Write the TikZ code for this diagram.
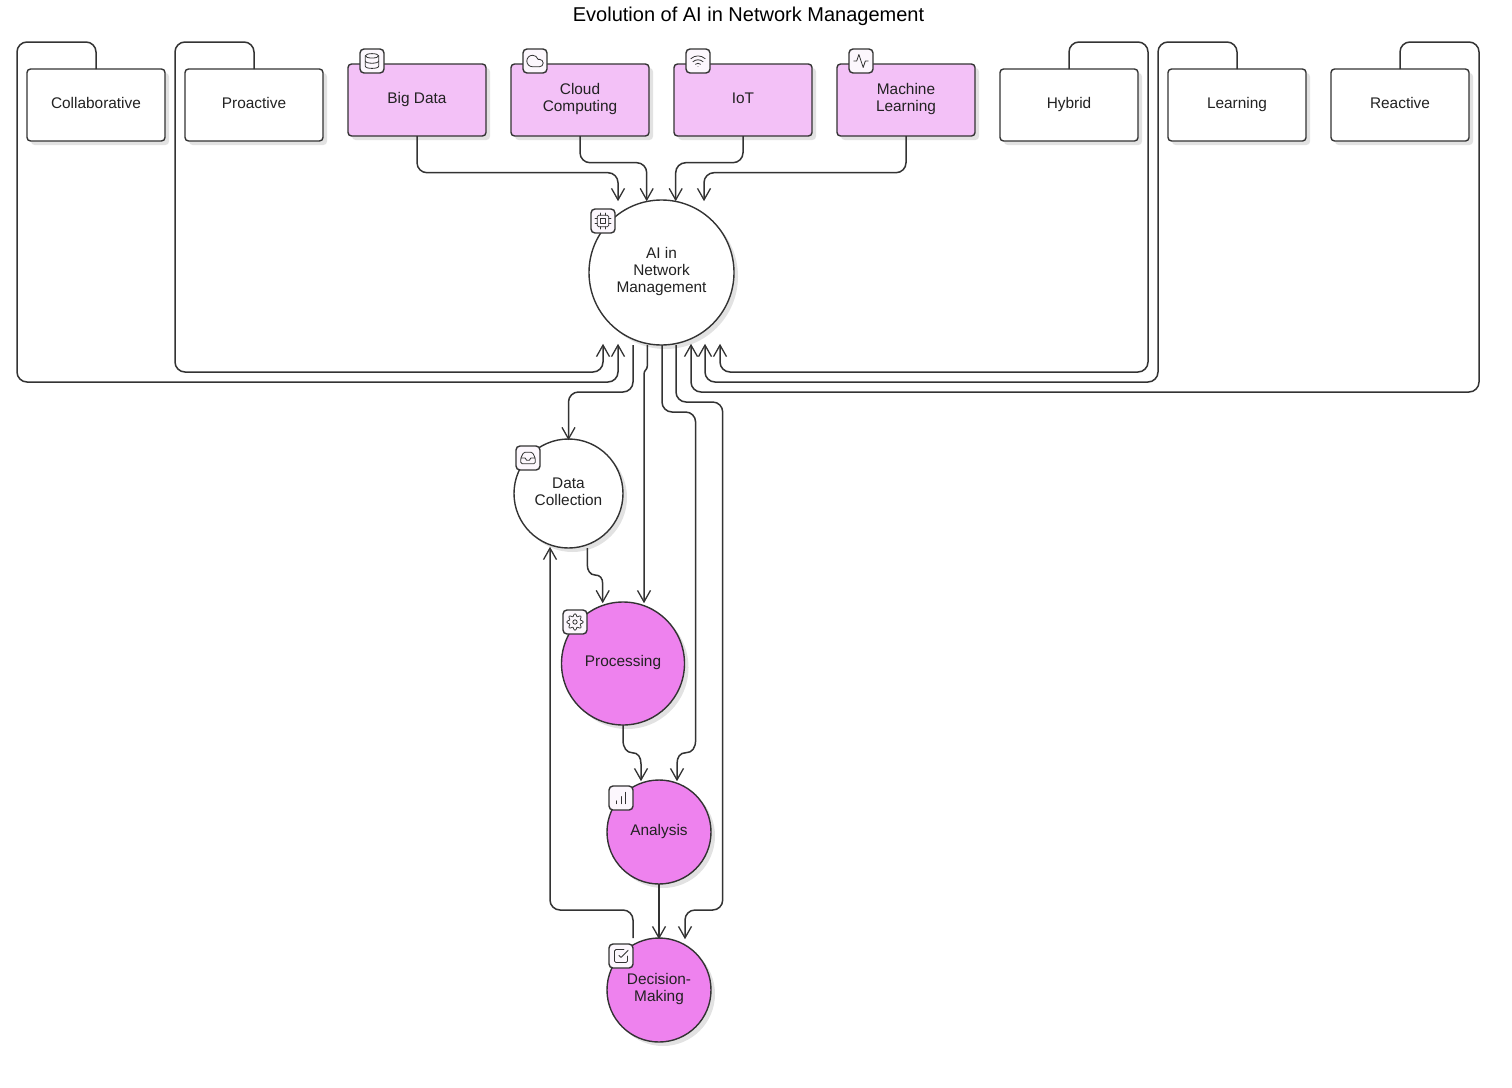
\documentclass[tikz,border=0pt]{standalone}
\usepackage{fontspec}
\setmainfont{Liberation Sans}
\usetikzlibrary{arrows.meta,shadows,calc}
\definecolor{ink}{HTML}{333333}
\definecolor{txt}{HTML}{222222}
\definecolor{softpink}{HTML}{F3C1F7}
\definecolor{violetfill}{HTML}{EE82EE}
\definecolor{iconbg}{HTML}{FCF7FD}
\definecolor{shade}{HTML}{E2E2E2}
\newcommand{\lbl}[1]{\raisebox{1pt}{\begin{tabular}{@{}c@{}}#1\end{tabular}}}
\tikzset{
  x=1pt,y=-1pt,
  every node/.style={text=txt,font=\fontsize{15.4}{17}\selectfont,outer sep=0pt,inner sep=0pt},
  softshadow/.style={general shadow={draw=none,fill=shade,shadow xshift=4pt,shadow yshift=-4pt}},
  boxplain/.style={softshadow,draw=ink,line width=1.4pt,fill=white,rounded corners=3.5pt,minimum width=138pt,minimum height=72pt},
  boxpink/.style={boxplain,fill=softpink},
  ballplain/.style={softshadow,circle,draw=ink,line width=1.4pt,fill=white},
  ballviolet/.style={ballplain,fill=violetfill},
  iconbox/.style={draw=ink,line width=1.4pt,fill=iconbg,rounded corners=4pt,minimum size=24pt},
  conn/.style={draw=ink,line width=1.5pt,rounded corners=10pt,shorten >=-1.2pt,-{Straight Barb[length=11.5pt,width=13pt,line width=1.3pt]}},
  glyph/.style={draw=ink,line width=0.8pt,line cap=round,line join=round},
  pics/icdb/.style={code={\begin{scope}[shift={(-12,-12)},glyph]
    \draw (12,5) ellipse [x radius=9,y radius=3];
    \draw (3,5) -- (3,19) .. controls (3,23) and (21,23) .. (21,19) -- (21,5);
    \draw (3,12) .. controls (3,16) and (21,16) .. (21,12);
  \end{scope}}},
  pics/iccloud/.style={code={\begin{scope}[shift={(-12,-12)},glyph]
    \draw (17.5,19) -- (9,19) arc[start angle=90,end angle=343.4,radius=7] -- (17.5,10) arc[start angle=-90,end angle=90,radius=4.5] -- cycle;
  \end{scope}}},
  pics/icwifi/.style={code={\begin{scope}[shift={(-12,-12)},glyph]
    \draw (2,8.82) .. controls (8,3.6) and (16,3.6) .. (22,8.82);
    \draw (5,13) .. controls (9,9.4) and (15,9.4) .. (19,13);
    \draw (8.5,16.5) .. controls (10.5,14.8) and (13.5,14.8) .. (15.5,16.5);
    \draw (12,20) -- (12.01,20);
  \end{scope}}},
  pics/icpulse/.style={code={\begin{scope}[shift={(-12,-12)},glyph]
    \draw (22,12) -- (18,12) -- (15,21) -- (9,3) -- (6,12) -- (2,12);
  \end{scope}}},
  pics/iccpu/.style={code={\begin{scope}[shift={(-12,-12)},glyph]
    \draw[rounded corners=1.4pt] (4,4) rectangle (20,20);
    \draw (9,9) rectangle (15,15);
    \foreach \p in {9,15}{
      \draw (\p,1) -- (\p,4); \draw (\p,20) -- (\p,23);
      \draw (1,\p) -- (4,\p); \draw (20,\p) -- (23,\p);}
  \end{scope}}},
  pics/icinbox/.style={code={\begin{scope}[shift={(-12,-12)},glyph]
    \draw (22,12) -- (16,12) -- (14,15) -- (10,15) -- (8,12) -- (2,12);
    \draw[rounded corners=1.4pt] (6,4) -- (18,4) -- (22,12) -- (22,20) -- (2,20) -- (2,12) -- cycle;
  \end{scope}}},
  pics/icgear/.style={code={\begin{scope}[glyph]
    \draw[domain=0:360,samples=121,smooth] plot ({(9.6+1.7*cos(8*\x))*cos(\x)},{(9.6+1.7*cos(8*\x))*sin(\x)}) -- cycle;
    \draw (0,0) circle [radius=3];
  \end{scope}}},
  pics/icbars/.style={code={\begin{scope}[shift={(-12,-12)},glyph]
    \draw (12,20) -- (12,10); \draw (18,20) -- (18,4); \draw (6,20) -- (6,16);
  \end{scope}}},
  pics/iccheck/.style={code={\begin{scope}[shift={(-12,-12)},glyph]
    \draw (9,11) -- (12,14) -- (22,4);
    \draw[rounded corners=1.4pt] (21,12) -- (21,21) -- (3,21) -- (3,3) -- (16,3);
  \end{scope}}},
}
\begin{document}
\begin{tikzpicture}
\useasboundingbox (0,0) rectangle (1512,1087);
\node[font=\fontsize{20}{22}\selectfont,text=black] (title) at (748.5,16.5) {Evolution of AI in Network Management};

% boxes
\node[boxplain] (collab) at (96,105) {\lbl{Collaborative}};
\node[boxplain] (proact) at (254,105) {\lbl{Proactive}};
\node[boxpink] (bigdata) at (417,100) {\lbl{Big Data}};
\node[boxpink] (cloud) at (580,100) {\lbl{Cloud\\Computing}};
\node[boxpink] (iot) at (743,100) {\lbl{IoT}};
\node[boxpink] (ml) at (906,100) {\lbl{Machine\\Learning}};
\node[boxplain] (hybrid) at (1069,105) {\lbl{Hybrid}};
\node[boxplain] (learn) at (1237,105) {\lbl{Learning}};
\node[boxplain] (react) at (1400,105) {\lbl{Reactive}};

% circles
\node[ballplain,minimum size=145pt] (ai) at (661.5,272.5) {\lbl{AI in\\Network\\Management}};
\node[ballplain,minimum size=109pt] (data) at (568.5,493.5) {\lbl{Data\\Collection}};
\node[ballviolet,minimum size=123pt] (proc) at (623,663.5) {\lbl{Processing}};
\node[ballviolet,minimum size=104pt] (ana) at (659,832) {\lbl{Analysis}};
\node[ballviolet,minimum size=104pt] (deci) at (659,990) {\lbl{Decision-\\Making}};

% connectors into AI from above
\draw[conn] (bigdata.south) -- ++(0,36.7) -| ([xshift=-43.5pt]ai.north);
\draw[conn] (cloud.south) -- ++(0,26.7) -| ([xshift=-14.8pt]ai.north);
\draw[conn] (iot.south) -- ++(0,26.7) -| ([xshift=14.2pt]ai.north);
\draw[conn] (ml.south) -- ++(0,36.7) -| ([xshift=42.5pt]ai.north);

% feedback loops
\draw[conn] (collab.north) |- (17,42) -- (17,382) -| ([xshift=-43.5pt]ai.south);
\draw[conn] (proact.north) |- (175,42) -- (175,372) -| ([xshift=-58.5pt]ai.south);
\draw[conn] (hybrid.north) |- (1148,42) -- (1148,372) -| ([xshift=58.5pt]ai.south);
\draw[conn] (learn.north) |- (1158,42) -- (1158,382) -| ([xshift=43.5pt]ai.south);
\draw[conn] (react.north) |- (1479,42) -- (1479,392) -| ([xshift=29.5pt]ai.south);

% out of AI
\draw[conn] ([xshift=-28.5pt]ai.south) -- ++(0,47) -| (data.north);
\draw[conn,sharp corners] ([xshift=-14.2pt]ai.south) -- ++(0,21) .. controls ++(0,4) and (644,370) .. (644,374) -- ([xshift=21pt]proc.north);
\draw[conn] ([xshift=0.5pt]ai.south) -- ++(0,67) -- (695.6,412) -- (695.6,730) [sharp corners] -- (695.6,740) .. controls (695.6,748) and (692,752.7) .. (686,752.7) .. controls (680,752.7) and (677,757) .. (677,764) -- ([xshift=18pt]ana.north);
\draw[conn] ([xshift=14.5pt]ai.south) -- ++(0,57) -- (722.7,402) -- (722.7,910) -- (685,910) -- ([xshift=26pt]deci.north);

% chain
\draw[conn,sharp corners] ([xshift=18.8pt]data.south) -- ++(0,17) .. controls ++(0,5) and (590,575) .. (595,575) .. controls (600,575) and (602.7,578) .. (602.7,584) -- ([xshift=-20.3pt]proc.north);
\draw[conn,sharp corners] (proc.south) -- ++(0,15) .. controls ++(0,8) and (627,752.7) .. (632,752.7) .. controls (638,752.7) and (641,757) .. (641,764) -- ([xshift=-18pt]ana.north);
\draw[conn] (ana.south) -- (deci.north);
\draw[conn] ([xshift=-26pt]deci.north) -- ++(0,-28) -- (550,910) -- ([xshift=-18.5pt]data.south);

% icons
\node[iconbox] (i1) at (372,61) {}; \pic[scale=.74] at (i1) {icdb};
\node[iconbox] (i2) at (535,61) {}; \pic[scale=.82] at (i2) {iccloud};
\node[iconbox] (i3) at (698,61) {}; \pic[scale=.72] at (i3) {icwifi};
\node[iconbox] (i4) at (861,61) {}; \pic[scale=.72] at (i4) {icpulse};
\node[iconbox] (i5) at (603,221) {}; \pic[scale=.72] at (i5) {iccpu};
\node[iconbox] (i6) at (528,458) {}; \pic[scale=.72] at (i6) {icinbox};
\node[iconbox] (i7) at (575,622) {}; \pic[scale=.72] at (i7) {icgear};
\node[iconbox] (i8) at (621,798) {}; \pic[scale=.72] at (i8) {icbars};
\node[iconbox] (i9) at (621,956) {}; \pic[scale=.72] at (i9) {iccheck};
\end{tikzpicture}
\end{document}
